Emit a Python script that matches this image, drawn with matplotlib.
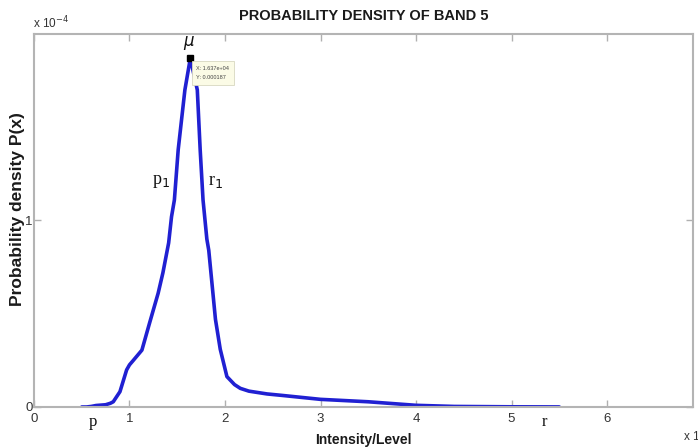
import matplotlib
matplotlib.use("Agg")
import matplotlib.pyplot as plt
import numpy as np

# probability density of band 5 (intensity in levels, density per level)
intensity = np.array([
    5000, 5500, 6000, 6500, 7000, 7500, 8000, 8300, 9000, 9700,
    10000, 10400, 11300, 12100, 13000, 13500, 14100, 14400, 14700, 15100,
    15800, 16370, 17100, 17400, 17700, 18100, 18300, 19000, 19500, 20200,
    21000, 21600, 22500, 24400, 26000, 30000, 35000, 40000, 44000, 50000,
    55000,
])
density = np.array([
    0.0, 0.0, 0.003, 0.008, 0.010, 0.012, 0.020, 0.028, 0.082, 0.199,
    0.226, 0.250, 0.305, 0.450, 0.610, 0.720, 0.880, 1.020, 1.110, 1.380,
    1.700, 1.870, 1.700, 1.380, 1.110, 0.900, 0.840, 0.470, 0.310, 0.163,
    0.120, 0.100, 0.085, 0.070, 0.062, 0.041, 0.028, 0.009, 0.003, 0.001,
    0.0004,
]) * 1e-4

peak_x = 16370
peak_y = 0.000187

x_scale = 1e4
y_scale = 1e-4
xticks = [0, 1, 2, 3, 4, 5, 6]
yticks = [0, 1]

plt.rcParams['font.family'] = ['Liberation Sans', 'DejaVu Sans']

fig = plt.figure(figsize=(6.98, 4.47), dpi=100)
ax = fig.add_axes([0.0487, 0.0895, 0.9441, 0.8345])

ax.plot(intensity / x_scale, density / y_scale, color='#2020d2', lw=2.6,
        solid_joinstyle='round', solid_capstyle='round')

ax.set_xlim(0, 6.9)
ax.set_ylim(0, 2.0)
ax.set_xticks(xticks)
ax.set_yticks(yticks)
ax.tick_params(direction='in', length=5, width=1, color='#b0b0b0',
               labelcolor='#333333', labelsize=9.5, top=True, right=True)
ax.tick_params(axis='x', pad=4)
ax.tick_params(axis='y', pad=1)
for s in ax.spines.values():
    s.set_color('#b4b4b4')
    s.set_linewidth(1.5)

ax.set_title('PROBABILITY DENSITY OF BAND 5', fontsize=10.5, fontweight='bold',
             color='#1a1a1a', pad=10)
ax.set_xlabel('Intensity/Level', fontsize=10, fontweight='bold', color='#1a1a1a',
              labelpad=6)
ax.set_ylabel('Probability density P(x)', fontsize=12.5, fontweight='bold',
              color='#1a1a1a')
ax.yaxis.set_label_coords(-0.014, 0.53)

# axis multipliers
fig.text(0.047, 0.937, 'x 10$^{-4}$', fontsize=8.5, color='#333333')
fig.text(0.978, 0.012, 'x 10$^{4}$', fontsize=8.5, color='#333333')

# data tip on the peak
ax.plot(peak_x / x_scale, peak_y / y_scale, marker='s', ms=4.5, color='black')
ax.text(peak_x / x_scale + 0.06, peak_y / y_scale - 0.04,
        'X: 1.637e+04\nY: 0.000187', fontsize=4, va='top', ha='left',
        color='#444444', linespacing=2.2,
        bbox=dict(boxstyle='square,pad=0.8', fc='#fbfbe6', ec='#d8d8c0', lw=0.6))

serif = ['Liberation Serif', 'DejaVu Serif']
ax.text(peak_x / x_scale - 0.01, 1.95, r'$\mu$', fontsize=12, ha='center',
        va='center', color='#111111')
ax.text(1.33, 1.21, 'p$_1$', fontsize=13, family=serif, ha='center',
        va='center', color='#111111')
ax.text(1.9, 1.21, 'r$_1$', fontsize=13, family=serif, ha='center',
        va='center', color='#111111')
ax.text(0.62, -0.08, 'p', fontsize=12, family=serif, ha='center', va='center',
        color='#111111', clip_on=False)
ax.text(5.35, -0.08, 'r', fontsize=12, family=serif, ha='center', va='center',
        color='#111111', clip_on=False)

fig.savefig('out.png', dpi=100)
